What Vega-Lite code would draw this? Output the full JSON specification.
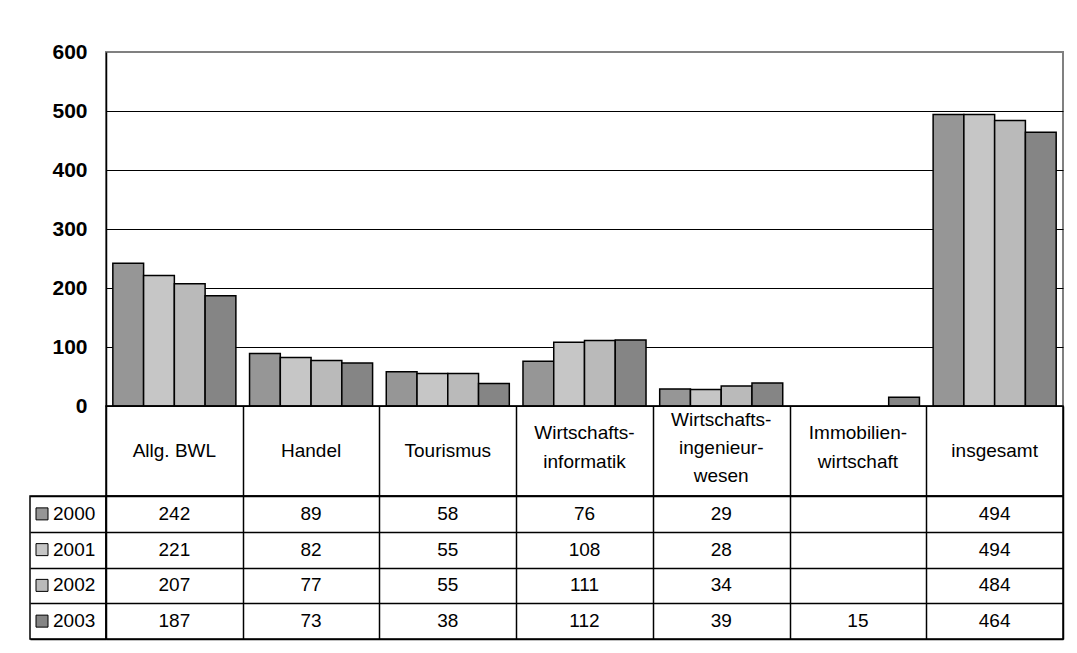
{
  "$schema": "https://vega.github.io/schema/vega-lite/v6.json",
  "background": "white",
  "padding": {"left": 29, "top": 40, "right": 5, "bottom": 5},
  "autosize": {"type": "pad"},
  "datasets": {
    "d": [
      {"category": "Allg. BWL", "year": "2000", "value": 242},
      {"category": "Allg. BWL", "year": "2001", "value": 221},
      {"category": "Allg. BWL", "year": "2002", "value": 207},
      {"category": "Allg. BWL", "year": "2003", "value": 187},
      {"category": "Handel", "year": "2000", "value": 89},
      {"category": "Handel", "year": "2001", "value": 82},
      {"category": "Handel", "year": "2002", "value": 77},
      {"category": "Handel", "year": "2003", "value": 73},
      {"category": "Tourismus", "year": "2000", "value": 58},
      {"category": "Tourismus", "year": "2001", "value": 55},
      {"category": "Tourismus", "year": "2002", "value": 55},
      {"category": "Tourismus", "year": "2003", "value": 38},
      {"category": "Wirtschaftsinformatik", "year": "2000", "value": 76},
      {"category": "Wirtschaftsinformatik", "year": "2001", "value": 108},
      {"category": "Wirtschaftsinformatik", "year": "2002", "value": 111},
      {"category": "Wirtschaftsinformatik", "year": "2003", "value": 112},
      {"category": "Wirtschaftsingenieurwesen", "year": "2000", "value": 29},
      {"category": "Wirtschaftsingenieurwesen", "year": "2001", "value": 28},
      {"category": "Wirtschaftsingenieurwesen", "year": "2002", "value": 34},
      {"category": "Wirtschaftsingenieurwesen", "year": "2003", "value": 39},
      {"category": "Immobilienwirtschaft", "year": "2003", "value": 15},
      {"category": "insgesamt", "year": "2000", "value": 494},
      {"category": "insgesamt", "year": "2001", "value": 494},
      {"category": "insgesamt", "year": "2002", "value": 484},
      {"category": "insgesamt", "year": "2003", "value": 464}
    ],
    "headers": [
      {"category": "Allg. BWL", "label": "Allg. BWL", "lines": 1},
      {"category": "Handel", "label": "Handel", "lines": 1},
      {"category": "Tourismus", "label": "Tourismus", "lines": 1},
      {"category": "Wirtschaftsinformatik", "label": "Wirtschafts-\ninformatik", "lines": 2},
      {"category": "Wirtschaftsingenieurwesen", "label": "Wirtschafts-\ningenieur-\nwesen", "lines": 3},
      {"category": "Immobilienwirtschaft", "label": "Immobilien-\nwirtschaft", "lines": 2},
      {"category": "insgesamt", "label": "insgesamt", "lines": 1}
    ],
    "years": [
      {"year": "2000"}, {"year": "2001"}, {"year": "2002"}, {"year": "2003"}
    ]
  },
  "columns": 2,
  "spacing": 0,
  "bounds": "flush",
  "align": "each",
  "concat": [
    {
      "width": 76, "height": 354,
      "data": {"values": []},
      "mark": "point",
      "view": {"stroke": null}
    },
    {
      "width": 957, "height": 354,
      "data": {"name": "d"},
      "view": {"stroke": "#808080", "strokeWidth": 2},
      "mark": {"type": "bar", "stroke": "black", "strokeWidth": 1.5},
      "encoding": {
        "x": {
          "field": "category", "type": "nominal",
          "scale": {
            "domain": ["Allg. BWL", "Handel", "Tourismus", "Wirtschaftsinformatik", "Wirtschaftsingenieurwesen", "Immobilienwirtschaft", "insgesamt"],
            "paddingInner": 0.1, "paddingOuter": 0.05
          },
          "axis": null
        },
        "xOffset": {
          "field": "year", "type": "nominal",
          "scale": {"domain": ["2000", "2001", "2002", "2003"], "paddingInner": 0, "paddingOuter": 0}
        },
        "y": {
          "field": "value", "type": "quantitative",
          "scale": {"domain": [0, 600], "nice": false},
          "axis": {
            "title": null,
            "values": [0, 100, 200, 300, 400, 500, 600],
            "grid": true,
            "gridColor": {"condition": {"test": "datum.value == 600", "value": "#808080"}, "value": "black"},
            "gridWidth": 1,
            "gridOpacity": 1,
            "ticks": false,
            "domainColor": "black",
            "domainWidth": 1.5,
            "labelFont": "Liberation Sans",
            "labelFontWeight": "bold",
            "labelFontSize": 21,
            "labelColor": "black",
            "labelPadding": 19
          }
        },
        "fill": {
          "field": "year", "type": "nominal",
          "scale": {"domain": ["2000", "2001", "2002", "2003"], "range": ["#969696", "#c6c6c6", "#bababa", "#858585"]},
          "legend": null
        }
      }
    },
    {
      "width": 76, "height": 90,
      "data": {"values": []},
      "mark": "point",
      "view": {"stroke": null}
    },
    {
      "width": 957, "height": 90,
      "data": {"name": "headers"},
      "encoding": {
        "x": {
          "field": "category", "type": "nominal",
          "scale": {
            "domain": ["Allg. BWL", "Handel", "Tourismus", "Wirtschaftsinformatik", "Wirtschaftsingenieurwesen", "Immobilienwirtschaft", "insgesamt"],
            "paddingInner": 0, "paddingOuter": 0
          },
          "axis": {"title": null, "labels": false, "ticks": false, "domain": false, "grid": true, "tickBand": "extent", "gridColor": "black", "gridWidth": 1.5, "gridOpacity": 1}
        },
        "text": {"field": "label", "type": "nominal"}
      },
      "layer": [
        {
          "transform": [{"filter": "datum.lines == 1"}],
          "mark": {"type": "text", "font": "Liberation Sans", "fontSize": 19, "color": "black", "lineBreak": "\n", "lineHeight": 28, "baseline": "middle", "dy": 0}
        },
        {
          "transform": [{"filter": "datum.lines == 2"}],
          "mark": {"type": "text", "font": "Liberation Sans", "fontSize": 19, "color": "black", "lineBreak": "\n", "lineHeight": 29, "baseline": "middle", "dy": -18}
        },
        {
          "transform": [{"filter": "datum.lines == 3"}],
          "mark": {"type": "text", "font": "Liberation Sans", "fontSize": 19, "color": "black", "lineBreak": "\n", "lineHeight": 28, "baseline": "middle", "dy": -31}
        }
      ]
    },
    {
      "width": 76, "height": 143,
      "data": {"name": "years"},
      "layer": [
        {
          "mark": {"type": "square", "size": 144, "stroke": "black", "strokeWidth": 1, "opacity": 1, "xOffset": -26},
          "encoding": {
            "y": {
              "field": "year", "type": "nominal",
              "scale": {"domain": ["2000", "2001", "2002", "2003"], "paddingInner": 0, "paddingOuter": 0},
              "axis": {"title": null, "labels": false, "ticks": false, "domain": false, "grid": true, "tickBand": "extent", "gridColor": "black", "gridWidth": 1.5, "gridOpacity": 1}
            },
            "fill": {
              "field": "year", "type": "nominal",
              "scale": {"domain": ["2000", "2001", "2002", "2003"], "range": ["#969696", "#c6c6c6", "#bababa", "#858585"]},
              "legend": null
            }
          }
        },
        {
          "mark": {"type": "text", "font": "Liberation Sans", "fontSize": 19, "color": "black", "align": "left", "dx": -15},
          "encoding": {
            "y": {"field": "year", "type": "nominal"},
            "text": {"field": "year", "type": "nominal"}
          }
        }
      ]
    },
    {
      "width": 957, "height": 143,
      "data": {"name": "d"},
      "mark": {"type": "text", "font": "Liberation Sans", "fontSize": 19, "color": "black"},
      "encoding": {
        "x": {
          "field": "category", "type": "nominal",
          "scale": {
            "domain": ["Allg. BWL", "Handel", "Tourismus", "Wirtschaftsinformatik", "Wirtschaftsingenieurwesen", "Immobilienwirtschaft", "insgesamt"],
            "paddingInner": 0, "paddingOuter": 0
          },
          "axis": {"title": null, "labels": false, "ticks": false, "domain": false, "grid": true, "tickBand": "extent", "gridColor": "black", "gridWidth": 1.5, "gridOpacity": 1}
        },
        "y": {
          "field": "year", "type": "nominal",
          "scale": {"domain": ["2000", "2001", "2002", "2003"], "paddingInner": 0, "paddingOuter": 0},
          "axis": {"title": null, "labels": false, "ticks": false, "domain": false, "grid": true, "tickBand": "extent", "gridColor": "black", "gridWidth": 1.5, "gridOpacity": 1}
        },
        "text": {"field": "value", "type": "quantitative"}
      }
    }
  ],
  "config": {
    "view": {"stroke": "black", "strokeWidth": 1.5},
    "font": "Liberation Sans"
  }
}
